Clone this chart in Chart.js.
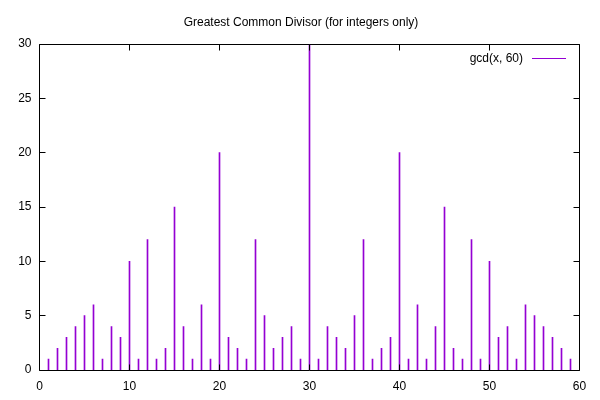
<!DOCTYPE html>
<html>
<head>
<meta charset="utf-8">
<script src="https://cdn.jsdelivr.net/npm/chart.js@4"></script>
<style>
html,body{margin:0;padding:0;background:#fff;}
#wrap{width:600px;height:400px;}
</style>
</head>
<body>
<div id="wrap"><canvas id="c" width="600" height="400"></canvas></div>
<script>
const titleText = "Greatest Common Divisor (for integers only)";
const seriesLabel = "gcd(x, 60)";
const xValues = [1,2,3,4,5,6,7,8,9,10,11,12,13,14,15,16,17,18,19,20,21,22,23,24,25,26,27,28,29,30,31,32,33,34,35,36,37,38,39,40,41,42,43,44,45,46,47,48,49,50,51,52,53,54,55,56,57,58,59];
const gcdValues = [1,2,3,4,5,6,1,4,3,10,1,12,1,2,15,4,1,6,1,20,3,2,1,12,5,2,3,4,1,30,1,4,3,2,5,12,1,2,3,20,1,6,1,4,15,2,1,12,1,10,3,4,1,6,5,4,3,2,1];
const xTicks = [0,10,20,30,40,50,60];
const yTicks = [0,5,10,15,20,25,30];

const FONT = '"Liberation Sans", Arial, sans-serif';
const purple = '#9400D3';

const frame = {
  id: 'frame',
  afterDraw(chart) {
    const ctx = chart.ctx, a = chart.chartArea;
    const xs = chart.scales.x, ys = chart.scales.y;
    const L = Math.floor(a.left) + 0.5, R = Math.floor(a.right) + 0.5;
    const T = Math.floor(a.top) + 0.5, B = Math.floor(a.bottom) + 0.5;
    ctx.save();
    ctx.strokeStyle = '#000';
    ctx.lineWidth = 1;
    ctx.beginPath();
    ctx.rect(L, T, R - L, B - T);
    const tl = 6;
    xTicks.forEach(v => {
      const p = Math.floor(xs.getPixelForValue(v)) + 0.5;
      ctx.moveTo(p, B); ctx.lineTo(p, B - tl);
      ctx.moveTo(p, T); ctx.lineTo(p, T + tl);
    });
    yTicks.forEach(v => {
      const p = Math.floor(ys.getPixelForValue(v)) + 0.5;
      ctx.moveTo(L, p); ctx.lineTo(L + tl, p);
      ctx.moveTo(R, p); ctx.lineTo(R - tl, p);
    });
    ctx.stroke();
    ctx.fillStyle = '#000';
    ctx.font = '12px ' + FONT;
    ctx.textAlign = 'center';
    ctx.textBaseline = 'middle';
    ctx.fillText(titleText, 301, 23);
    ctx.textAlign = 'right';
    ctx.fillText(seriesLabel, 523, 59);
    ctx.strokeStyle = purple;
    ctx.beginPath();
    ctx.moveTo(532, 58.5); ctx.lineTo(566, 58.5);
    ctx.stroke();
    ctx.restore();
  }
};

new Chart(document.getElementById('c'), {
  type: 'bar',
  data: {
    datasets: [{
      label: seriesLabel,
      data: xValues.map((x, i) => ({x: x, y: gcdValues[i]})),
      backgroundColor: purple,
      borderWidth: 0,
      barThickness: 1
    }]
  },
  options: {
    responsive: false,
    animation: false,
    devicePixelRatio: 1,
    layout: {padding: {left: 0, top: 44, right: 20.5, bottom: 0}},
    plugins: {legend: {display: false}, title: {display: false}, tooltip: {enabled: false}},
    scales: {
      x: {
        type: 'linear', min: 0, max: 60, offset: false,
        grid: {display: false, drawTicks: false},
        border: {display: false},
        afterFit(s) { s.height = 30; },
        afterBuildTicks(s) { s.ticks = xTicks.map(v => ({value: v})); },
        ticks: {color: '#000', font: {family: FONT, size: 12}, padding: 9, maxRotation: 0}
      },
      y: {
        min: 0, max: 30,
        grid: {display: false, drawTicks: false},
        border: {display: false},
        afterFit(s) { s.width = 39.5; },
        afterBuildTicks(s) { s.ticks = yTicks.map(v => ({value: v})); },
        ticks: {color: '#000', font: {family: FONT, size: 12}, padding: 8}
      }
    }
  },
  plugins: [frame]
});
</script>
</body>
</html>
